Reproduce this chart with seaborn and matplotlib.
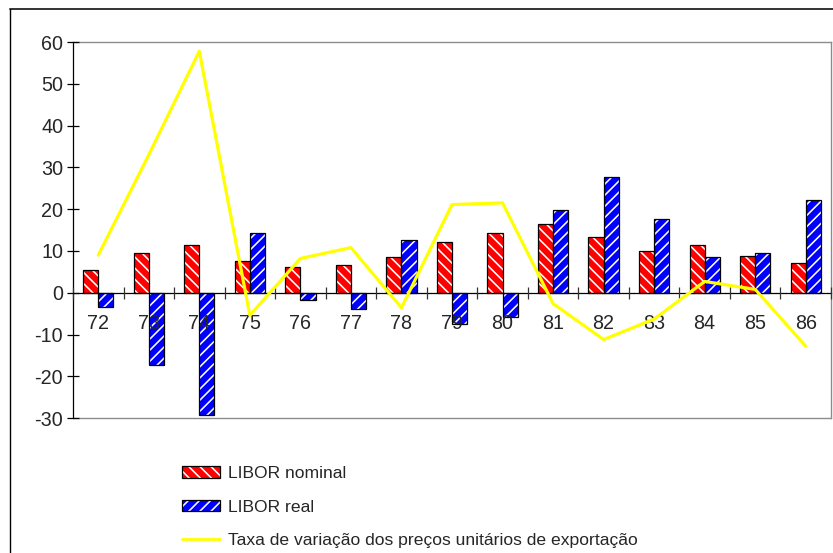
import numpy as np
import pandas as pd
import seaborn as sns
import matplotlib.pyplot as plt
from matplotlib.patches import Patch, Rectangle
from matplotlib.lines import Line2D
from matplotlib.legend_handler import HandlerTuple

# Data
anos = ["72", "73", "74", "75", "76", "77", "78", "79", "80", "81", "82", "83", "84", "85", "86"]
libor_nominal = [5.4, 9.6, 11.5, 7.7, 6.2, 6.6, 8.5, 12.2, 14.2, 16.5, 13.4, 10.0, 11.5, 8.8, 7.0]
libor_real = [-3.5, -17.3, -29.3, 14.2, -1.7, -3.9, 12.7, -7.4, -5.8, 19.9, 27.6, 17.6, 8.5, 9.6, 22.2]
taxa_export = [9.0, 33.0, 57.8, -5.4, 8.2, 10.8, -3.6, 21.1, 21.5, -2.6, -11.2, -6.3, 2.7, 0.8, -12.8]

serie_nom = "LIBOR nominal"
serie_real = "LIBOR real"
serie_taxa = "Taxa de variação dos preços unitários de exportação"

sns.set_style("white")
plt.rcParams["font.family"] = ["Liberation Sans", "DejaVu Sans"]
plt.rcParams["hatch.linewidth"] = 1.15
plt.rcParams["axes.unicode_minus"] = False

df = pd.DataFrame({
    "ano": anos * 2,
    "valor": libor_nominal + libor_real,
    "serie": [serie_nom] * len(anos) + [serie_real] * len(anos),
})

fig = plt.figure(figsize=(8.33, 5.53), dpi=100)
ax = fig.add_axes([0.0876, 0.244, 0.91, 0.68])

sns.barplot(data=df, x="ano", y="valor", hue="serie", order=anos,
            hue_order=[serie_nom, serie_real], palette=["red", "blue"],
            width=0.6, gap=0, legend=False, ax=ax, errorbar=None)

# hatch the bars (white stripes) and draw black outlines on top
hatches = {"red": "\\\\\\", "blue": "///"}
for p in list(ax.patches):
    fc = p.get_facecolor()
    key = "red" if fc[0] > fc[2] else "blue"
    p.set_facecolor(key)
    p.set_edgecolor("white")
    p.set_hatch(hatches[key])
    p.set_linewidth(0)
    ax.add_patch(Rectangle(p.get_xy(), p.get_width(), p.get_height(),
                           fill=False, edgecolor="black", linewidth=0.9, zorder=1.5))

sns.lineplot(x=np.arange(len(anos)), y=taxa_export, color="#FFFF00",
             linewidth=2.3, ax=ax, zorder=3)

ax.set_xlim(-0.5, len(anos) - 0.5)
ax.set_ylim(-30, 60)
ax.set_yticks(range(-30, 61, 10))
ax.set_xticks(range(len(anos)))
ax.set_xticklabels(anos)
ax.set_xticks(np.arange(-0.5, len(anos), 1.0), minor=True)
ax.set_xlabel("")
ax.set_ylabel("")
# tick labels sit on top of the bars, as in the original
ax.set_axisbelow(False)

for s in ["top", "right"]:
    ax.spines[s].set_color("#8c8c8c")
    ax.spines[s].set_linewidth(1.0)
ax.spines["left"].set_color("black")
ax.spines["left"].set_linewidth(0.9)
ax.spines["bottom"].set_position(("data", 0))
ax.spines["bottom"].set_color("black")
ax.spines["bottom"].set_linewidth(0.9)
# gray bottom edge of the plot area at -30
ax.axhline(-30, color="#8c8c8c", linewidth=1.0, zorder=0.5, clip_on=False)

ax.tick_params(axis="y", which="major", direction="inout", length=8, width=0.9,
               color="black", labelsize=14.2, pad=3, left=True)
ax.tick_params(axis="x", which="major", length=0, labelsize=14.2, pad=15)
ax.tick_params(axis="x", which="minor", direction="inout", length=9, width=0.9,
               color="#333333", bottom=True)

# legend
h_nom = (Patch(facecolor="red", edgecolor="white", hatch="\\\\\\", linewidth=0),
         Patch(fill=False, edgecolor="black", linewidth=0.9))
h_real = (Patch(facecolor="blue", edgecolor="white", hatch="///", linewidth=0),
          Patch(fill=False, edgecolor="black", linewidth=0.9))
h_taxa = Line2D([], [], color="#FFFF00", linewidth=2)
fig.legend([h_nom, h_real, h_taxa], [serie_nom, serie_real, serie_taxa],
           handler_map={tuple: HandlerTuple(ndivide=1)},
           loc="upper left", bbox_to_anchor=(0.2185, 0.157), frameon=False,
           fontsize=12.6, handlelength=2.15, handleheight=0.6, handletextpad=0.45,
           labelspacing=1.05, borderpad=0, borderaxespad=0)

# outer chart frame (top and left edges)
fig.add_artist(Line2D([10 / 833, 1.0], [1 - 9 / 553, 1 - 9 / 553],
                      transform=fig.transFigure, color="#333333", linewidth=1.4))
fig.add_artist(Line2D([10 / 833, 10 / 833], [0, 1 - 9 / 553],
                      transform=fig.transFigure, color="black", linewidth=1.0))

fig.savefig("out.png", dpi=100)
